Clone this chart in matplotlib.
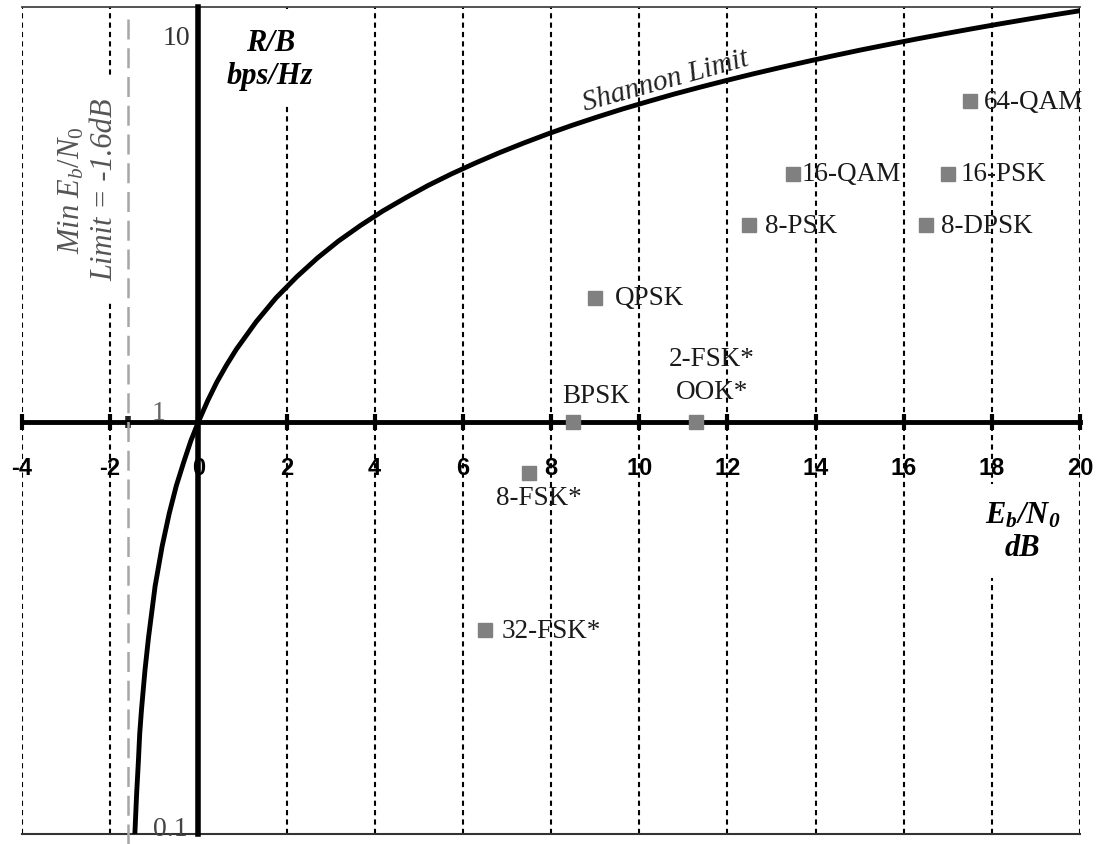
import matplotlib.pyplot as plt

plt.rcParams["mathtext.fontset"] = "custom"
plt.rcParams["mathtext.rm"] = "Liberation Serif"
plt.rcParams["mathtext.it"] = "Liberation Serif:italic"
plt.rcParams["mathtext.bf"] = "Liberation Serif:italic:bold"

# Shannon limit curve (Eb/N0 in dB, R/B in bps/Hz)
shannon_ebn0 = [-1.44, -1.40, -1.36, -1.33, -1.29, -1.21, -1.13, -0.98, -0.82,
                -0.66, -0.50, -0.33, -0.17, 0.0, 0.21, 0.42, 0.64, 0.86,
                1.31, 1.76, 2.23, 2.70, 3.18, 3.68, 4.18, 4.70, 5.21, 5.74,
                6.28, 6.82, 7.37, 7.92, 8.48, 9.05, 9.62, 10.21, 10.79,
                11.39, 11.99, 12.59, 13.20, 13.81, 14.42, 15.03, 15.66,
                16.28, 16.91, 17.54, 18.17, 18.81, 19.45, 20.10]
shannon_rate = [0.10, 0.125, 0.15, 0.175, 0.20, 0.25, 0.30, 0.40, 0.50,
                0.60, 0.70, 0.80, 0.90, 1.0, 1.125, 1.25, 1.375, 1.5,
                1.75, 2.0, 2.25, 2.5, 2.75, 3.0, 3.25, 3.5, 3.75, 4.0,
                4.25, 4.5, 4.75, 5.0, 5.25, 5.5, 5.75, 6.0, 6.25,
                6.5, 6.75, 7.0, 7.25, 7.5, 7.75, 8.0, 8.25,
                8.5, 8.75, 9.0, 9.25, 9.5, 9.75, 10.0]

# modulation schemes
schemes = ["BPSK", "QPSK", "8-PSK", "16-PSK", "8-DPSK", "16-QAM", "64-QAM",
           "2-FSK*\nOOK*", "8-FSK*", "32-FSK*"]
scheme_ebn0 = [8.5, 9.0, 12.5, 17.0, 16.5, 13.5, 17.5, 11.3, 7.5, 6.5]
scheme_rate = [1, 2, 3, 4, 3, 4, 6, 1, 0.75, 0.3125]

x_ticks = list(range(-4, 21, 2))
y_ticks = [0.1, 1, 10]
y_labels = ["0.1", "1", "10"]
min_ebn0 = -1.6

# label placement (offset points, alignment)
label_pos = {
    "BPSK": ((17, 19), "center"),
    "QPSK": ((14, 0), "left"),
    "8-PSK": ((11, 0), "left"),
    "16-PSK": ((9, 0), "left"),
    "8-DPSK": ((11, 0), "left"),
    "16-QAM": ((6, 0), "left"),
    "64-QAM": ((10, 0), "left"),
    "2-FSK*\nOOK*": ((11, 34), "center"),
    "8-FSK*": ((7, -17), "center"),
    "32-FSK*": ((12, 0), "left"),
}
ylabel_pos = [(-8, -1, "#444444"), (-24, 2, "#666666"), (-6, -24.5, "#333333")]

fig = plt.figure(figsize=(11.1, 8.45), dpi=100)
ax = fig.add_axes([22 / 1110, 10 / 845, 1058 / 1110, 827 / 845])
ax.set_yscale("log")
ax.set_xlim(-4, 20)
ax.set_ylim(0.1, 10.17)

ax.spines["left"].set_position(("data", 0))
ax.spines["left"].set_linewidth(4)
ax.spines["left"].set_zorder(3.2)
ax.spines["bottom"].set_position(("data", 1))
ax.spines["bottom"].set_linewidth(3.5)
ax.spines["right"].set_visible(False)
ax.spines["top"].set_linewidth(1.3)
ax.spines["top"].set_color("#444444")

ax.set_xticks(x_ticks)
ax.set_xticklabels([str(t) for t in x_ticks])
ax.set_xticks([min_ebn0], minor=True)
ax.tick_params(axis="x", which="major", direction="inout", length=11, width=3,
               pad=19, labelsize=17)
ax.tick_params(axis="x", which="minor", direction="inout", length=9, width=4,
               color="#222222")
for lbl in ax.get_xticklabels():
    lbl.set_fontfamily("Liberation Sans")
    lbl.set_fontweight("bold")
ax.tick_params(axis="y", which="both", left=False, labelleft=False)

ax.grid(axis="x", which="major", color="k", lw=1.5, linestyle=(0, (2.5, 2)))
ax.axhline(0.1, color="#333333", lw=1.5, clip_on=False)

# y tick values written beside the axis
for val, lab, (dx, dy, col) in zip(y_ticks, y_labels, ylabel_pos):
    ax.annotate(lab, (0, val), xytext=(dx, dy), textcoords="offset points",
                ha="right", va="baseline", family="Liberation Serif",
                fontsize=20, color=col)

ax.axvline(min_ebn0, ymin=-0.012, ymax=0.995, color="#a6a6a6", lw=1.8,
           linestyle=(0, (8, 3.5)), clip_on=False, zorder=3.5)

ax.plot(shannon_ebn0, shannon_rate, color="k", lw=3.5,
        solid_capstyle="round", zorder=4)
ax.plot(scheme_ebn0, scheme_rate, ls="none", marker="s", ms=10,
        color="#808080", zorder=5, clip_on=False)

for name, x, y in zip(schemes, scheme_ebn0, scheme_rate):
    (dx, dy), ha = label_pos[name]
    ax.annotate(name, (x, y), xytext=(dx, dy), textcoords="offset points",
                ha=ha, va="center", family="Liberation Serif", fontsize=19.5,
                color="#1a1a1a", linespacing=1.45, zorder=5)

ax.text(10.6, 6.75, "Shannon Limit", rotation=15.5, rotation_mode="anchor",
        ha="center", va="center", style="italic", family="Liberation Serif",
        fontsize=21, color="#222222")

ax.text(1.63, 7.6, "R/B\nbps/Hz", ha="center", va="center",
        family="Liberation Serif", style="italic", weight="bold", fontsize=22,
        bbox=dict(boxstyle="square,pad=0.5", fc="white", ec="none"), zorder=3)

ax.text(18.69, 0.5437, "$\\mathbf{E_b/N_0}$\ndB", ha="center", va="center",
        family="Liberation Serif", style="italic", weight="bold", fontsize=22,
        bbox=dict(boxstyle="square,pad=0.5", fc="white", ec="none"), zorder=3)

ax.text(-2.5, 3.68, "$\\mathit{Min}\\ E_b/N_0$\nLimit = -1.6dB", rotation=90,
        ha="center", va="center", multialignment="center",
        family="Liberation Serif", style="italic", fontsize=22, color="#555555",
        bbox=dict(boxstyle="square,pad=0.75", fc="white", ec="none"), zorder=3)

fig.savefig("out.png", dpi=100)
